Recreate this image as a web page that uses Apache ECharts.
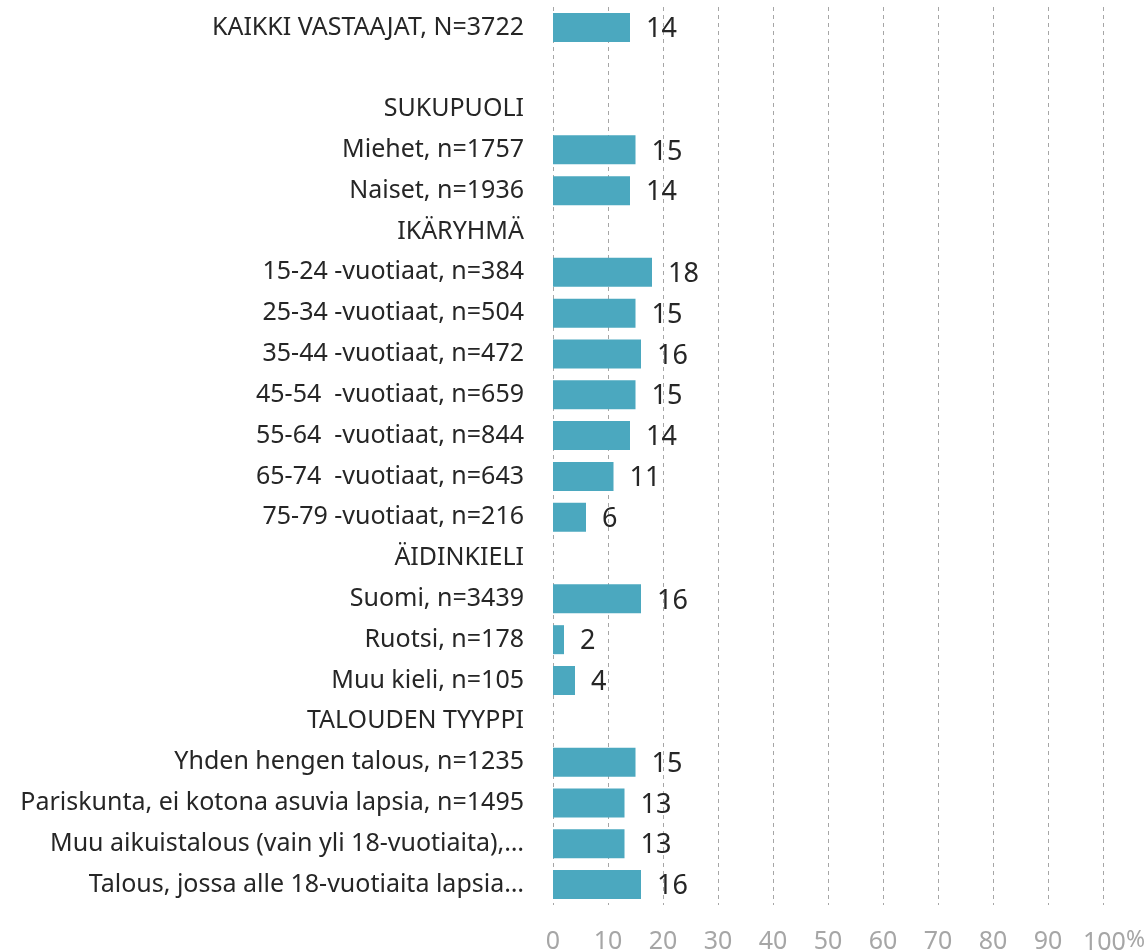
<!DOCTYPE html>
<html>
<head>
<meta charset="utf-8">
<script src="https://cdn.jsdelivr.net/npm/echarts@6/dist/echarts.min.js"></script>
<style>
html,body{margin:0;padding:0;background:#fff;}
#chart{width:1147px;height:950px;}
</style>
</head>
<body>
<div id="chart"></div>
<script>
const categories = [
  'KAIKKI VASTAAJAT, N=3722',
  '',
  'SUKUPUOLI',
  'Miehet, n=1757',
  'Naiset, n=1936',
  'IKÄRYHMÄ',
  '15-24 -vuotiaat, n=384',
  '25-34 -vuotiaat, n=504',
  '35-44 -vuotiaat, n=472',
  '45-54  -vuotiaat, n=659',
  '55-64  -vuotiaat, n=844',
  '65-74  -vuotiaat, n=643',
  '75-79 -vuotiaat, n=216',
  'ÄIDINKIELI',
  'Suomi, n=3439',
  'Ruotsi, n=178',
  'Muu kieli, n=105',
  'TALOUDEN TYYPPI',
  'Yhden hengen talous, n=1235',
  'Pariskunta, ei kotona asuvia lapsia, n=1495',
  'Muu aikuistalous (vain yli 18-vuotiaita),…',
  'Talous, jossa alle 18-vuotiaita lapsia…'
];
const values = [14, null, null, 15, 14, null, 18, 15, 16, 15, 14, 11, 6, null, 16, 2, 4, null, 15, 13, 13, 16];
const axisMin = 0;
const axisMax = 100;
const axisStep = 10;
const unitLabel = '%';

const chart = echarts.init(document.getElementById('chart'), null, {renderer: 'canvas'});
const FONT = '"Noto Sans", "Open Sans", sans-serif';
chart.setOption({
  animation: false,
  backgroundColor: '#ffffff',
  grid: {left: 553, right: 44, top: 7, bottom: 45, containLabel: false, outerBoundsMode: 'none'},
  xAxis: {
    type: 'value',
    min: axisMin,
    max: axisMax,
    interval: axisStep,
    axisLine: {show: false},
    axisTick: {show: false},
    splitLine: {show: true, lineStyle: {color: '#a6a6a6', width: 1, type: [4, 4]}},
    axisLabel: {
      color: '#a6a6a6',
      fontFamily: FONT,
      fontSize: 25,
      margin: 24,
      formatter: function (v) {
        return v === axisMax ? '{s|}{n|' + v + '}{p|' + unitLabel + '}' : String(v);
      },
      rich: {
        s: {width: 22},
        n: {fontSize: 25, color: '#a6a6a6', fontFamily: FONT},
        p: {fontSize: 23, color: '#a6a6a6', fontFamily: FONT, padding: [0, 0, 4, 0]}
      }
    }
  },
  yAxis: {
    type: 'category',
    inverse: true,
    data: categories,
    axisLine: {show: false},
    axisTick: {show: false},
    splitLine: {show: false},
    axisLabel: {
      color: '#262626',
      fontFamily: FONT,
      fontSize: 25,
      margin: 29,
      interval: 0
    }
  },
  series: [{
    type: 'bar',
    data: values,
    barWidth: 29,
    itemStyle: {color: '#4BA8BF'},
    label: {
      show: true,
      position: 'right',
      distance: 16,
      color: '#262626',
      fontFamily: FONT,
      fontSize: 27,
      offset: [0, 2]
    }
  }]
});
</script>
</body>
</html>
